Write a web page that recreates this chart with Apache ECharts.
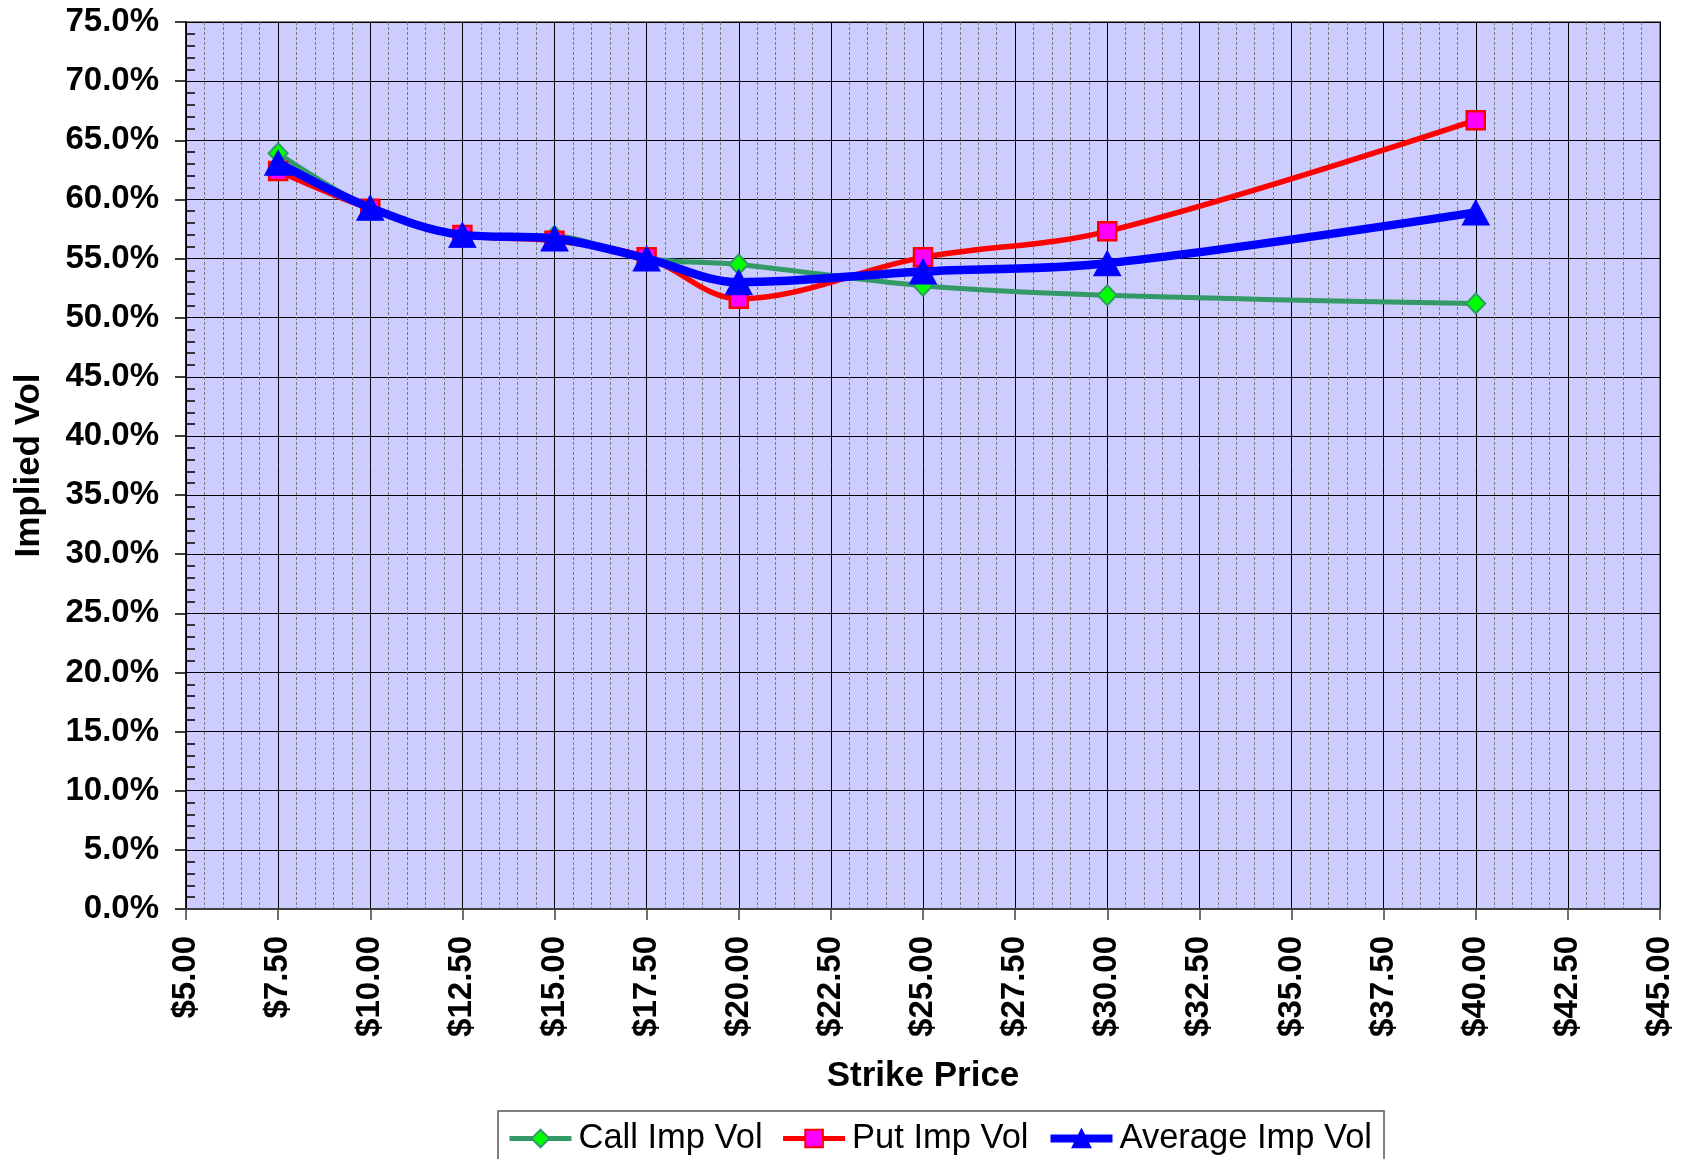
<!DOCTYPE html>
<html>
<head>
<meta charset="utf-8">
<script src="https://cdn.jsdelivr.net/npm/echarts@6/dist/echarts.min.js"></script>
<style>
  html, body { margin: 0; padding: 0; background: #ffffff; }
  #chart { width: 1686px; height: 1159px; }
</style>
</head>
<body>
<div id="chart"></div>
<script>
// Strike prices and implied volatilities (in percent)
const strikes = [7.5, 10, 12.5, 15, 17.5, 20, 25, 30, 40];
const callVol = [63.9, 59.3, 57.0, 56.9, 55.0, 54.5, 52.7, 51.9, 51.2];
const putVol  = [62.4, 59.2, 57.0, 56.5, 55.1, 51.6, 55.1, 57.3, 66.7];
const avgVol  = [63.1, 59.3, 57.0, 56.7, 55.0, 53.0, 53.9, 54.6, 58.9];

const seriesNames = ['Call Imp Vol', 'Put Imp Vol', 'Average Imp Vol'];

const FONT = '"Liberation Sans", Arial, sans-serif';

const pairs = (ys) => strikes.map((x, i) => [x, ys[i]]);

const chart = echarts.init(document.getElementById('chart'), null, { renderer: 'canvas' });

chart.setOption({
  animation: false,
  backgroundColor: '#ffffff',
  grid: {
    left: 186, top: 22, right: 26, bottom: 250,
    show: true,
    backgroundColor: '#CCCCFF',
    borderColor: '#808080',
    borderWidth: 2
  },
  legend: {
    data: [
      { name: seriesNames[0], lineStyle: { width: 5 } },
      { name: seriesNames[1], lineStyle: { width: 5 } },
      { name: seriesNames[2], lineStyle: { width: 8 } }
    ],
    left: 498,
    top: 1111,
    orient: 'horizontal',
    itemWidth: 62,
    itemHeight: 22,
    itemGap: 18,
    padding: [10, 12, 20, 9],
    borderColor: '#555',
    borderWidth: 1.5,
    backgroundColor: '#ffffff',
    textStyle: { fontFamily: FONT, fontSize: 34.5, color: '#000', padding: [0, 0, 0, 2] }
  },
  xAxis: {
    type: 'value',
    min: 5, max: 45, interval: 2.5,
    name: 'Strike Price',
    nameLocation: 'middle',
    nameGap: 150,
    nameTextStyle: { fontFamily: FONT, fontSize: 35, fontWeight: 'bold', color: '#000' },
    axisLine: { show: true, onZero: false, lineStyle: { color: '#404040', width: 2 } },
    axisTick: { show: true, inside: false, length: 11, lineStyle: { color: '#404040', width: 1.5 } },
    axisLabel: {
      rotate: 90, margin: 27,
      fontFamily: FONT, fontSize: 33, fontWeight: 'bold', color: '#000',
      formatter: (v) => '$' + v.toFixed(2)
    },
    splitLine: { show: true, lineStyle: { color: '#000', width: 1 } },
    minorTick: { show: false, splitNumber: 5 },
    minorSplitLine: { show: true, lineStyle: { color: '#777', width: 1, type: [3, 2] } }
  },
  yAxis: {
    type: 'value',
    min: 0, max: 75, interval: 5,
    name: 'Implied Vol',
    nameLocation: 'middle',
    nameGap: 139,
    nameTextStyle: { fontFamily: FONT, fontSize: 35, fontWeight: 'bold', color: '#000' },
    axisLine: { show: true, lineStyle: { color: '#000', width: 1.5 } },
    axisTick: { show: true, inside: false, length: 11, lineStyle: { color: '#000', width: 1.5 } },
    minorTick: { show: true, splitNumber: 5, length: -9, lineStyle: { color: '#000', width: 1.5 } },
    axisLabel: {
      margin: 27,
      fontFamily: FONT, fontSize: 33, fontWeight: 'bold', color: '#000',
      formatter: (v) => v.toFixed(1) + '%'
    },
    splitLine: { show: true, lineStyle: { color: '#000', width: 1 } }
  },
  series: [
    {
      name: seriesNames[0],
      type: 'line',
      data: pairs(callVol),
      smooth: 0.35,
      symbol: 'diamond',
      symbolSize: [19, 20],
      lineStyle: { color: '#339966', width: 5 },
      itemStyle: { color: '#00FF00', borderColor: '#339966', borderWidth: 2 },
      z: 2
    },
    {
      name: seriesNames[1],
      type: 'line',
      data: pairs(putVol),
      smooth: 0.35,
      symbol: 'rect',
      symbolSize: 18,
      lineStyle: { color: '#FF0000', width: 5.5 },
      itemStyle: { color: '#FF00FF', borderColor: '#FF0000', borderWidth: 2.5 },
      z: 3
    },
    {
      name: seriesNames[2],
      type: 'line',
      data: pairs(avgVol),
      smooth: 0.35,
      symbol: 'triangle',
      symbolSize: [27, 25],
      lineStyle: { color: '#0000FF', width: 8.5 },
      itemStyle: { color: '#0000FF', borderColor: '#0000FF', borderWidth: 1 },
      z: 4
    }
  ]
});
</script>
</body>
</html>
